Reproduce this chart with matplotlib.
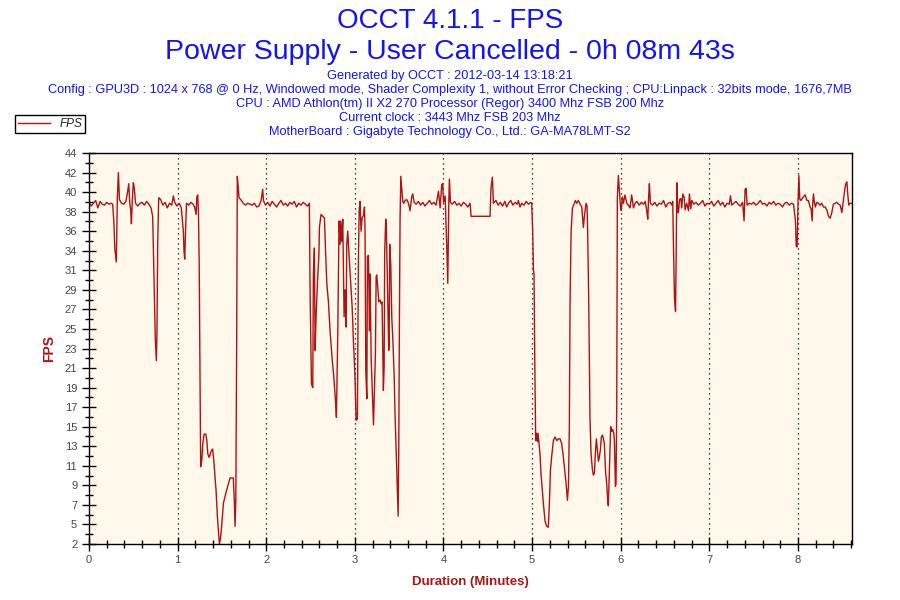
# =========================
# OCCT 4.1.1 - FPS log
# =========================

import numpy as np
import matplotlib.pyplot as plt

# -----------------
# Datos (segundos, FPS) por minuto
# -----------------

sec_m0 = [0, 1.5, 3, 4.5, 6, 7.5, 9, 10.5, 12, 13.5, 15, 16, 16.8, 17.5, 18.5, 19.2, 19.9, 20.6, 22, 23.5,
          25, 26.2, 26.9, 27.6, 28.2, 28.7, 29.3, 30.0, 30.7, 31.5, 33, 34.5, 36, 37.5, 39, 40.5, 42, 43.1, 44.0, 44.9,
          45.6, 46.0, 46.5, 47.2, 48.5, 50, 51.5, 53, 54.5, 56, 57.1, 58, 59.5]
fps_m0 = [38.7, 38.3, 38.6, 38.9, 38.1, 38.8, 38.5, 38.4, 38.7, 38.5, 38.6, 38.5, 36.7, 33.7, 32.3, 39.3, 41.9, 39.0, 38.6, 38.5,
          38.8, 39.9, 40.7, 38.6, 37.9, 36.4, 38.9, 40.8, 40.2, 38.6, 38.3, 38.6, 38.7, 38.4, 38.8, 38.5, 38.1, 37.2, 30.6, 23.9,
          21.7, 24.7, 34.2, 39.2, 39.0, 38.4, 38.7, 38.1, 38.6, 38.4, 39.4, 38.7, 38.3]

sec_m1 = [61, 62.5, 63.9, 64.3, 64.8, 65.3, 66.0, 67.5, 69, 70.5, 71.5, 72.5, 73.0, 73.6, 74.1, 74.6, 75.2, 75.6, 76.3, 77.0,
          77.9, 79.1, 79.8, 80.4, 81.3, 82.8, 83.7, 84.6, 85.3, 86.0, 86.9, 88.3, 89.1, 89.8, 91.0, 92.1, 93.2, 94.4, 95.5, 97.7,
          98.4, 98.9, 99.4, 100.0, 100.4, 100.9, 101.6, 103.2, 104.5, 106, 107.5, 109, 110.5, 112, 113.5, 115, 116.5, 117.6, 118.1, 119.5]
fps_m1 = [38.6, 38.1, 35.5, 33.5, 32.6, 35.3, 38.6, 38.4, 38.7, 38.5, 38.2, 37.4, 39.3, 39.5, 37.6, 32.1, 19.0, 10.3, 10.9, 12.7,
          13.8, 13.8, 13.1, 11.7, 11.3, 12.0, 12.2, 10.8, 9.2, 7.8, 5.0, 2.0, 2.7, 3.9, 6.4, 7.1, 7.8, 8.5, 9.1, 9.1,
          6.6, 3.9, 6.8, 24.6, 41.5, 40.6, 39.2, 38.9, 38.6, 38.4, 38.6, 38.5, 38.4, 38.6, 38.2, 38.3, 38.9, 40.1, 38.9, 38.4]

sec_m2 = [121, 122.5, 124, 125.5, 127, 128.5, 130, 131.5, 133, 134.5, 136, 137.5, 139, 140.5, 142, 143.5, 145, 146.5, 148, 149.2,
          149.7, 150.6, 151.5, 151.9, 152.6, 153.1, 153.7, 154.7, 155.6, 156.0, 157.1, 158.3, 159.4, 160.1, 161.0, 162.1, 163.2, 163.9, 164.6, 165.5,
          166.2, 167.1, 167.5, 168.4, 168.9, 169.3, 170.0, 170.5, 171.1, 171.8, 172.7, 173.4, 174.1, 174.5, 175.2, 176.1, 176.8, 177.4, 178.1, 178.6,
          179.0, 179.7]
fps_m2 = [38.7, 38.3, 38.8, 38.5, 38.2, 38.6, 38.9, 38.4, 38.6, 38.3, 38.7, 38.5, 38.8, 38.2, 38.6, 38.4, 38.7, 38.5, 38.3, 38.6,
          28.9, 19.2, 18.8, 31.0, 33.8, 22.8, 26.3, 30.2, 32.9, 36.0, 37.4, 37.2, 37.0, 33.7, 30.0, 28.0, 24.9, 23.4, 21.9, 20.4,
          18.8, 16.9, 15.6, 24.4, 31.3, 36.7, 34.2, 36.7, 34.5, 36.9, 26.4, 29.3, 25.3, 34.2, 35.6, 32.9, 31.1, 29.6, 27.6, 25.7,
          23.8, 21.4]

sec_m3 = [180.2, 180.8, 181.7, 182.0, 182.4, 182.9, 183.5, 184.2, 184.9, 185.8, 186.5, 186.9, 187.4, 188.1, 188.5, 189.2, 189.9, 190.3, 191.0, 191.7,
          192.6, 193.2, 193.9, 194.4, 194.8, 195.3, 196.2, 197.1, 197.8, 198.4, 199.3, 199.8, 200.2, 200.9, 201.4, 202.0, 202.5, 202.9, 203.2, 203.6,
          204.3, 205.0, 205.7, 206.6, 207.2, 207.9, 208.6, 209.3, 209.7, 210.2, 210.6, 211.1, 211.8, 212.4, 213.1, 214.0, 215.1, 216.3, 217.4, 218.5,
          219.2, 220.1, 221.5, 223, 224.5, 226, 227.5, 229, 230.5, 232, 233.5, 235, 236.6, 237.7, 238.8, 239.5]
fps_m3 = [19.3, 15.3, 15.4, 23.3, 32.4, 37.8, 38.8, 35.6, 37.0, 37.3, 38.2, 35.6, 20.6, 17.6, 32.9, 33.0, 24.9, 31.0, 22.1, 18.8,
          14.8, 18.5, 22.4, 30.7, 30.9, 30.0, 28.0, 28.2, 27.8, 28.0, 18.5, 20.9, 33.5, 36.9, 35.4, 30.7, 26.3, 22.8, 23.5, 34.2,
          32.0, 26.3, 24.0, 20.1, 16.0, 12.4, 8.9, 5.0, 12.0, 27.1, 36.9, 41.5, 40.0, 38.8, 38.6, 38.9, 39.0, 38.6, 37.8, 39.3,
          39.6, 38.7, 38.5, 38.8, 38.4, 38.7, 38.3, 38.6, 38.9, 38.5, 38.7, 38.4, 39.9, 38.1, 40.6, 40.7]

sec_m4 = [240.0, 241.1, 242.2, 242.9, 243.6, 244.0, 244.7, 246, 247.5, 249, 250.5, 252, 253.5, 255, 256.5, 258.0, 258.7, 271.5, 272.2, 273.1,
          273.8, 275.5, 277, 278.5, 280, 281.5, 282.8, 284, 285.5, 287, 288.5, 290, 290.7, 291.8, 293, 294.5, 296, 297.5, 299, 299.7]
fps_m4 = [38.7, 39.4, 34.0, 30.0, 38.8, 41.2, 38.7, 38.5, 38.8, 38.4, 38.6, 38.3, 38.7, 38.5, 38.2, 38.6, 37.2, 37.2, 40.3, 41.4,
          38.6, 38.9, 38.4, 38.7, 38.3, 38.8, 38.2, 38.6, 38.9, 38.4, 38.7, 38.5, 38.9, 38.2, 38.6, 38.4, 38.8, 38.5, 38.7, 38.6]

sec_m5 = [300.4, 300.9, 301.3, 301.8, 302.4, 302.9, 303.6, 304.0, 304.7, 305.4, 306.0, 306.7, 307.6, 308.8, 309.9, 311.0, 311.7, 312.4, 313.3, 314.4,
          315.5, 316.7, 317.8, 318.9, 320.0, 321.2, 322.1, 323.0, 323.9, 324.6, 325.2, 325.7, 326.4, 327.3, 328.4, 329.3, 330.2, 331.3, 332.5, 333.6,
          334.7, 335.4, 336.1, 336.5, 337.2, 337.6, 338.3, 338.8, 339.2, 339.9, 340.8, 341.5, 342.2, 342.8, 343.5, 344.2, 344.9, 345.5, 346.2, 346.9,
          347.6, 348.3, 348.9, 349.8, 350.5, 351.2, 351.6, 352.3, 353.2, 353.9, 354.6, 355.3, 355.7, 356.4, 356.8, 357.3, 357.7, 358.4, 359.1, 359.8]
fps_m5 = [35.6, 31.4, 31.1, 21.7, 13.1, 13.9, 13.0, 13.9, 12.8, 11.5, 9.6, 8.2, 6.4, 4.4, 3.9, 3.8, 6.4, 9.9, 11.5, 13.1,
          13.5, 13.1, 13.3, 13.3, 12.8, 11.3, 9.9, 8.5, 6.7, 8.2, 14.4, 28.1, 35.6, 38.1, 38.5, 38.9, 38.6, 38.9, 38.5, 38.2,
          36.0, 37.2, 38.1, 38.6, 38.3, 35.6, 28.5, 21.7, 15.5, 11.7, 10.0, 9.4, 9.6, 11.7, 13.3, 12.1, 10.9, 11.3, 12.1, 13.5,
          13.7, 13.3, 12.8, 9.6, 8.5, 6.7, 6.1, 10.0, 14.6, 14.1, 14.3, 13.9, 13.1, 8.2, 8.5, 16.9, 39.2, 41.6, 39.9, 38.3]

sec_m6 = [360.4, 361.1, 361.8, 362.9, 364.1, 365.2, 366.3, 367.4, 368.6, 369.7, 371, 372.5, 374, 375.5, 376.6, 377.6, 378.3, 379.0, 379.4, 380.1,
          381.5, 383, 384.5, 386, 387.5, 389, 390.5, 392, 393.5, 394.6, 395.2, 395.7, 396.4, 397.1, 397.5, 398.0, 398.6, 399.1, 399.8, 400.7,
          401.3, 402.0, 402.9, 403.6, 404.7, 405.9, 406.5, 407.4, 408.1, 409.5, 411, 412.5, 414, 415.5, 417, 418.5]
fps_m6 = [37.8, 39.3, 38.6, 39.5, 38.6, 38.4, 38.1, 39.5, 38.1, 38.6, 38.8, 38.4, 38.7, 38.5, 38.8, 37.8, 36.9, 39.6, 40.7, 38.6,
          38.4, 38.7, 38.3, 38.6, 38.5, 38.9, 38.2, 38.6, 38.7, 38.4, 38.8, 34.0, 28.4, 27.0, 32.4, 40.8, 37.6, 37.6, 39.0, 39.1,
          38.1, 39.6, 39.3, 37.9, 38.6, 37.8, 39.6, 38.0, 38.9, 38.5, 38.7, 38.4, 38.6, 38.9, 38.3, 38.6]

sec_m7 = [420, 421.5, 423, 424.5, 426, 427.5, 429, 430.5, 432, 433.5, 434.3, 435.2, 436.5, 438, 439.5, 441, 442.5, 443.5, 444.2, 444.9,
          445.6, 447, 448.5, 450, 451.5, 453, 454.5, 456, 457.5, 459, 460.5, 462, 463.5, 465, 466.5, 468, 469.5, 471, 472.5, 474,
          475.5, 477, 478.3, 478.8, 479.4]
fps_m7 = [38.5, 38.8, 38.3, 38.6, 38.9, 38.4, 38.7, 38.2, 38.6, 38.5, 39.4, 38.4, 38.6, 38.8, 38.5, 38.3, 38.7, 36.7, 40.1, 40.2,
          38.4, 38.6, 38.5, 38.7, 38.4, 38.6, 38.9, 38.5, 38.6, 38.3, 38.7, 38.5, 38.8, 38.4, 38.6, 38.5, 38.2, 38.6, 38.7, 38.4,
          38.6, 38.5, 36.7, 34.0, 33.9]

sec_m8 = [480.1, 480.6, 481.2, 481.9, 482.8, 483.7, 484.9, 486.0, 487.1, 488.2, 488.9, 489.6, 490.0, 490.5, 491.2, 491.8, 492.7, 493.9, 495.0, 496.1,
          497.3, 498.4, 499.5, 500.7, 501.8, 502.9, 504.0, 505.2, 506.3, 507.5, 508.6, 509.7, 510.4, 511.3, 512.2, 513.1, 513.7, 514.4, 515.3, 516.4]
fps_m8 = [38.9, 41.6, 39.1, 38.9, 39.1, 39.3, 39.5, 38.9, 38.9, 38.2, 38.0, 36.7, 38.6, 39.6, 38.6, 38.2, 38.7, 38.6, 38.4, 38.6,
          38.2, 38.2, 37.9, 37.2, 37.0, 37.6, 38.5, 38.6, 38.7, 38.5, 38.4, 37.6, 38.5, 39.6, 40.6, 40.9, 39.6, 38.4, 38.6, 38.6]

y_labels = ["2", "5", "7", "9", "11", "13", "15", "17", "19", "21", "23",
            "25", "27", "29", "31", "34", "36", "38", "40", "42", "44"]
x_labels = ["0", "1", "2", "3", "4", "5", "6", "7", "8"]

header = [
    "Generated by OCCT : 2012-03-14 13:18:21",
    "Config : GPU3D : 1024 x 768 @ 0 Hz, Windowed mode, Shader Complexity 1, without Error Checking ; CPU:Linpack : 32bits mode, 1676,7MB",
    "CPU : AMD Athlon(tm) II X2 270 Processor (Regor) 3400 Mhz FSB 200 Mhz",
    "Current clock : 3443 Mhz FSB 203 Mhz",
    "MotherBoard : Gigabyte Technology Co., Ltd.: GA-MA78LMT-S2",
]

# -----------------
# Armar serie
# -----------------

secs = np.array(sec_m0 + sec_m1 + sec_m2 + sec_m3 + sec_m4 + sec_m5 + sec_m6 + sec_m7 + sec_m8)
fps = np.array(fps_m0 + fps_m1 + fps_m2 + fps_m3 + fps_m4 + fps_m5 + fps_m6 + fps_m7 + fps_m8)
minutes = secs / 60.0

# -----------------
# Gráfica
# -----------------

plt.rcParams["font.family"] = ["Liberation Sans", "DejaVu Sans"]

blue = "#1414f0"
red = "#aa1414"

fig = plt.figure(figsize=(9, 6), dpi=100)
ax = fig.add_axes([0.0989, 0.0933, 0.8478, 0.6517])
ax.set_facecolor("#fff8eb")

line, = ax.plot(minutes, fps, color=red, lw=1.0, label="FPS")

ax.set_xlim(0, 8.61)
ax.set_ylim(2, 44)

y_ticks = np.linspace(2, 44, len(y_labels))
ax.set_yticks(y_ticks)
ax.set_yticklabels(y_labels)
ax.set_yticks((y_ticks[:-1] + y_ticks[1:]) / 2, minor=True)

ax.set_xticks(range(len(x_labels)))
ax.set_xticklabels(x_labels)
ax.set_xticks(np.arange(0, 8.61, 0.2), minor=True)

ax.tick_params(which="major", direction="inout", length=10, width=1, colors="black",
               labelcolor="#444444", labelsize=8)
ax.tick_params(which="minor", direction="inout", length=6, width=1, colors="black")
ax.tick_params(axis="y", which="major", pad=3.5)
ax.tick_params(axis="x", which="major", pad=3)

for x in range(1, 9):
    ax.axvline(x, color="black", lw=0.9, linestyle=(0, (1, 3)), zorder=1)

for sp in ax.spines.values():
    sp.set_color("black")
    sp.set_linewidth(1)

ax.set_ylabel("FPS", color=red, fontsize=10, fontweight="bold", labelpad=6)
ax.set_xlabel("Duration (Minutes)", color=red, fontsize=9.5, fontweight="bold", labelpad=8)

# titulos
fig.text(0.5, 1 - 21 / 600, "OCCT 4.1.1 - FPS", ha="center", va="center", color=blue, fontsize=20)
fig.text(0.5, 1 - 52 / 600, "Power Supply - User Cancelled - 0h 08m 43s", ha="center", va="center",
         color=blue, fontsize=20.5)
for i, txt in enumerate(header):
    fig.text(0.5, 1 - (76.5 + i * 13.8) / 600, txt, ha="center", va="center", color=blue, fontsize=9.2)

leg = fig.legend(handles=[line], loc="upper left", bbox_to_anchor=(15 / 900, 1 - 115 / 600),
                 fancybox=False, edgecolor="black", framealpha=1, fontsize=8.5,
                 handlelength=2.7, borderpad=0.25, borderaxespad=0, handletextpad=0.8)
leg.get_frame().set_linewidth(1)
for t in leg.get_texts():
    t.set_style("italic")
    t.set_color("#222222")

fig.savefig("out.png", dpi=100)
